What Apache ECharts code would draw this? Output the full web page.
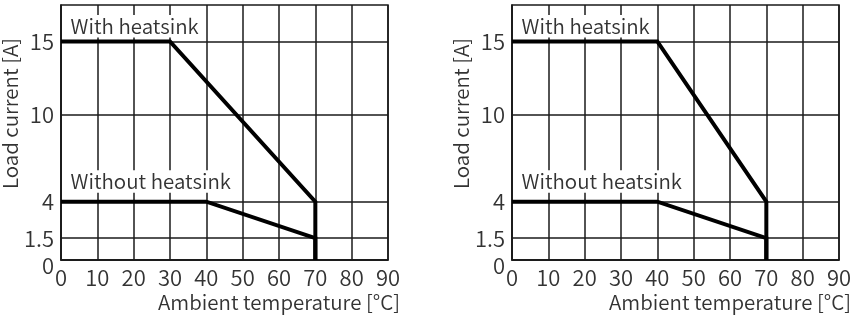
<!DOCTYPE html>
<html>
<head>
<meta charset="utf-8">
<script src="https://cdn.jsdelivr.net/npm/echarts@6/dist/echarts.min.js"></script>
<style>
  html, body { margin: 0; padding: 0; background: #fff; }
  #chart { width: 854px; height: 322px; }
</style>
</head>
<body>
<div id="chart"></div>
<script>
// Derating curves: load current vs ambient temperature
const xTicks = [0, 10, 20, 30, 40, 50, 60, 70, 80, 90];
const yTicks = [0, 1.5, 4, 10, 15];
const yMax = 17.5;

// [temperature °C, current A]
const leftWithHeatsink = [[0, 15], [30, 15], [70, 4], [70, 0]];
const leftWithoutHeatsink = [[0, 4], [40, 4], [70, 1.5], [70, 0]];
const rightWithHeatsink = [[0, 15], [40, 15], [70, 4], [70, 0]];
const rightWithoutHeatsink = [[0, 4], [40, 4], [70, 1.5], [70, 0]];

const labelWith = 'With heatsink';
const labelWithout = 'Without heatsink';
const xName = 'Ambient temperature [°C]';
const yName = 'Load current [A]';

const FONT = '"Noto Sans CJK JP", "Noto Sans", sans-serif';
const TXT = '#333';
const GRID = '#1a1a1a';
const WEIGHT = 350;
const TEXT_SIZE = 20.5;

function xAxisFor(i) {
  return {
    gridIndex: i, type: 'value', min: 0, max: 90, interval: 10,
    axisLine: { show: true, lineStyle: { color: GRID, width: 1.5 } },
    axisTick: { show: false },
    splitLine: { show: true, lineStyle: { color: GRID, width: 1.5 } },
    axisLabel: { color: TXT, fontFamily: FONT, fontSize: 22, fontWeight: WEIGHT, margin: 7 },
    name: xName, nameLocation: 'end', nameGap: 12,
    nameTextStyle: { color: TXT, fontFamily: FONT, fontSize: TEXT_SIZE, fontWeight: WEIGHT,
      align: 'right', verticalAlign: 'top', padding: [32, 0, 0, 0] }
  };
}

function yAxisFor(i) {
  return {
    gridIndex: i, type: 'value', min: 0, max: yMax,
    axisLine: { show: true, lineStyle: { color: GRID, width: 1.5 } },
    axisTick: { show: false, customValues: yTicks },
    splitLine: { show: true, lineStyle: { color: GRID, width: 1.5 } },
    axisLabel: {
      customValues: yTicks, color: TXT, fontFamily: FONT, fontSize: 22, fontWeight: WEIGHT, margin: 7,
      formatter: v => v === 0 ? '{z|0}' : String(v),
      rich: { z: { fontFamily: FONT, fontSize: 22, fontWeight: WEIGHT, color: TXT, padding: [12, 0, 0, 0] } }
    },
    name: yName, nameLocation: 'middle', nameGap: 38,
    nameTextStyle: { color: TXT, fontFamily: FONT, fontSize: TEXT_SIZE, fontWeight: WEIGHT, padding: [0, 0, 0, 38] }
  };
}

function curveLabel(point, text, dy) {
  return {
    symbol: 'rect', symbolSize: 1, itemStyle: { color: 'rgba(0,0,0,0)' },
    label: { show: true }, silent: true,
    data: [{
      coord: point,
      label: {
        show: true, formatter: text, position: [6, dy],
        color: TXT, fontFamily: FONT, fontSize: TEXT_SIZE, fontWeight: WEIGHT,
        backgroundColor: '#fff', padding: [1, 4, 1, 4]
      }
    }]
  };
}

function curve(i, data, labelText, dy) {
  return {
    type: 'line', xAxisIndex: i, yAxisIndex: i, data: data,
    showSymbol: false, symbol: 'none', silent: true,
    lineStyle: { color: '#000', width: 4, join: 'miter' },
    z: 3,
    markPoint: curveLabel(data[0], labelText, dy)
  };
}

const chart = echarts.init(document.getElementById('chart'), null, { renderer: 'canvas' });
chart.setOption({
  animation: false,
  backgroundColor: '#fff',
  grid: [
    { left: 61, right: 466, top: 5, bottom: 62, show: true, borderColor: GRID, borderWidth: 1.5, outerBoundsMode: 'none' },
    { left: 512, right: 15, top: 5, bottom: 62, show: true, borderColor: GRID, borderWidth: 1.5, outerBoundsMode: 'none' }
  ],
  xAxis: [xAxisFor(0), xAxisFor(1)],
  yAxis: [yAxisFor(0), yAxisFor(1)],
  series: [
    curve(0, leftWithHeatsink, labelWith, -26),
    curve(0, leftWithoutHeatsink, labelWithout, -31),
    curve(1, rightWithHeatsink, labelWith, -26),
    curve(1, rightWithoutHeatsink, labelWithout, -31)
  ]
});
</script>
</body>
</html>
